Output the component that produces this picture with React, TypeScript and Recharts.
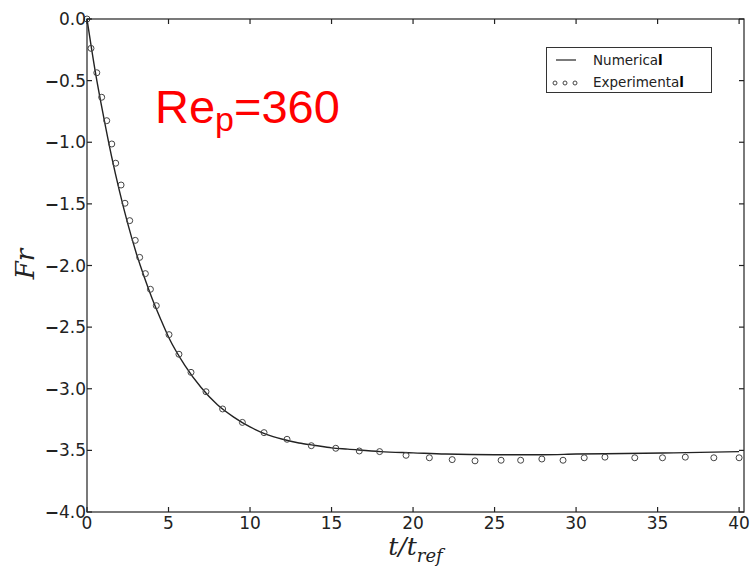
import {
  ComposedChart,
  XAxis,
  YAxis,
  Line,
} from "recharts";

// numerical solution
const numT = [0, 0.5, 1, 1.5, 2, 2.5, 3, 3.5, 4, 4.5, 5, 6, 7, 8, 9, 10, 11, 12, 13, 14, 15, 16, 18, 20, 22, 25, 28, 30, 33, 36, 40];
const numF = [0, -0.42, -0.78, -1.11, -1.4, -1.66, -1.89, -2.09, -2.27, -2.43, -2.58, -2.81, -2.99, -3.13, -3.23, -3.31, -3.37, -3.41, -3.44, -3.46, -3.48, -3.49, -3.51, -3.52, -3.53, -3.535, -3.535, -3.53, -3.525, -3.52, -3.51];

// experimental points
const expT = [0, 0.245, 0.6, 0.9, 1.21, 1.52, 1.76, 2.09, 2.33, 2.62, 2.96, 3.23, 3.58, 3.89, 4.25, 5.03, 5.64, 6.38, 7.3, 8.32, 9.53, 10.86, 12.27, 13.76, 15.26, 16.7, 17.95, 19.57, 21.0, 22.4, 23.8, 25.4, 26.6, 27.9, 29.2, 30.5, 31.77, 33.6, 35.3, 36.7, 38.45, 40.0];
const expF = [0, -0.238, -0.436, -0.635, -0.825, -1.014, -1.17, -1.347, -1.495, -1.636, -1.796, -1.934, -2.066, -2.193, -2.326, -2.561, -2.72, -2.867, -3.024, -3.164, -3.273, -3.356, -3.41, -3.462, -3.483, -3.505, -3.51, -3.54, -3.56, -3.575, -3.585, -3.58, -3.58, -3.57, -3.58, -3.56, -3.555, -3.56, -3.56, -3.555, -3.56, -3.56];

const xTicks = [0, 5, 10, 15, 20, 25, 30, 35, 40];
const yTicks = [0, -0.5, -1, -1.5, -2, -2.5, -3, -3.5, -4];
const seriesNames = ["Numerical", "Experimental"];

const X_MAX = 40.3;
const Y_MIN = -4;
const Y_MAX = 0;

const numData = numT.map((t, i) => ({ t, F: numF[i] }));
const expData = expT.map((t, i) => ({ t, F: expF[i] }));

const W = 750;
const H = 568;
// plot box, shared by the chart margins and the frame overlay
const PLOT = { left: 87, top: 19, right: 744, bottom: 512 };
const TICK = 5;

const INK = "#222";
const SANS = "DejaVu Sans";

const YTick = (props: any) => {
  const { x, y, payload } = props;
  const v = payload.value as number;
  return (
    <text x={x} y={y} dy="0.36em" textAnchor="end" fontSize={17} fill={INK} fontFamily={SANS}>
      {v < 0 && <tspan fontWeight="bold">−</tspan>}
      {Math.abs(v).toFixed(1)}
    </text>
  );
};

const Circle = (props: any) => (
  <circle key={props.index} cx={props.cx} cy={props.cy} r={3} fill="none" stroke="#444" strokeWidth={1} />
);

// frame with inward ticks, legend, annotation and axis titles, over the chart
const Overlay = () => {
  const pw = PLOT.right - PLOT.left;
  const ph = PLOT.bottom - PLOT.top;
  const px = (t: number) => PLOT.left + (t / X_MAX) * pw;
  const py = (v: number) => PLOT.top + ((Y_MAX - v) / (Y_MAX - Y_MIN)) * ph;
  return (
    <svg width={W} height={H} style={{ position: "absolute", left: 0, top: 0, pointerEvents: "none" }}>
      <g stroke={INK} strokeWidth={1.2} fill="none">
        <rect x={PLOT.left} y={PLOT.top} width={pw} height={ph} />
        {xTicks.map((t) => (
          <g key={"x" + t}>
            <line x1={px(t)} x2={px(t)} y1={PLOT.bottom} y2={PLOT.bottom - TICK} />
            <line x1={px(t)} x2={px(t)} y1={PLOT.top} y2={PLOT.top + TICK} />
          </g>
        ))}
        {yTicks.map((v) => (
          <g key={"y" + v}>
            <line x1={PLOT.left} x2={PLOT.left + TICK} y1={py(v)} y2={py(v)} />
            <line x1={PLOT.right} x2={PLOT.right - TICK} y1={py(v)} y2={py(v)} />
          </g>
        ))}
      </g>
      <g transform="translate(546,47)">
        <rect x={0.5} y={0.5} width={165} height={45} fill="#fff" stroke="#333" />
        <line x1={10} x2={30} y1={13} y2={13} stroke={INK} strokeWidth={1.2} />
        {[9, 19, 29].map((cx) => (
          <circle key={cx} cx={cx} cy={36} r={2} fill="none" stroke="#444" />
        ))}
        {seriesNames.map((name, i) => (
          <text key={name} x={47} y={17.5 + i * 22} fontSize={13.5} fill={INK} fontFamily={SANS}>
            {name.slice(0, -1)}
            <tspan fontWeight="bold" fill="#000">{name.slice(-1)}</tspan>
          </text>
        ))}
      </g>
      <text x={155} y={123} fill="#ff0000" fontFamily="Liberation Sans" fontSize={47}>
        Re
        <tspan fontSize={34} dy={8}>p</tspan>
        <tspan dy={-8}>=360</tspan>
      </text>
      <text x={(PLOT.left + PLOT.right) / 2} y={555} textAnchor="middle" fontFamily="DejaVu Serif" fontStyle="italic" fontSize={25} fill={INK}>
        t/t<tspan fontSize={18} dy={7}>ref</tspan>
      </text>
      <text x={34} y={264} textAnchor="middle" transform="rotate(-90, 34, 264)" fontFamily="DejaVu Serif" fontStyle="italic" fontSize={26} fill={INK}>
        Fr
      </text>
    </svg>
  );
};

export default function App() {
  return (
    <div
      style={{
        position: "absolute",
        left: 0,
        top: 0,
        width: W,
        height: H,
        background: "#fff",
        fontFamily: SANS,
        fontSize: 17,
      }}
    >
      <ComposedChart
        width={W}
        height={H}
        margin={{ top: PLOT.top, right: W - PLOT.right, bottom: 0, left: 0 }}
      >
        <XAxis
          xAxisId="b"
          dataKey="t"
          type="number"
          domain={[0, X_MAX]}
          ticks={xTicks}
          height={H - PLOT.bottom}
          tickSize={-5}
          tickMargin={10}
          axisLine={false}
          tickLine={false}
          tick={{ fontSize: 17, fill: INK, fontFamily: SANS }}
        />
        <YAxis
          yAxisId="l"
          dataKey="F"
          type="number"
          domain={[Y_MIN, Y_MAX]}
          ticks={yTicks}
          width={PLOT.left}
          tickSize={-5}
          tickMargin={6}
          axisLine={false}
          tickLine={false}
          tick={<YTick />}
        />
        <Line
          xAxisId="b"
          yAxisId="l"
          data={numData}
          dataKey="F"
          name={seriesNames[0]}
          type="monotone"
          stroke={INK}
          strokeWidth={1.4}
          dot={false}
          activeDot={false}
          isAnimationActive={false}
        />
        <Line
          xAxisId="b"
          yAxisId="l"
          data={expData}
          dataKey="F"
          name={seriesNames[1]}
          stroke="none"
          dot={Circle}
          activeDot={false}
          isAnimationActive={false}
        />
      </ComposedChart>
      <Overlay />
    </div>
  );
}
